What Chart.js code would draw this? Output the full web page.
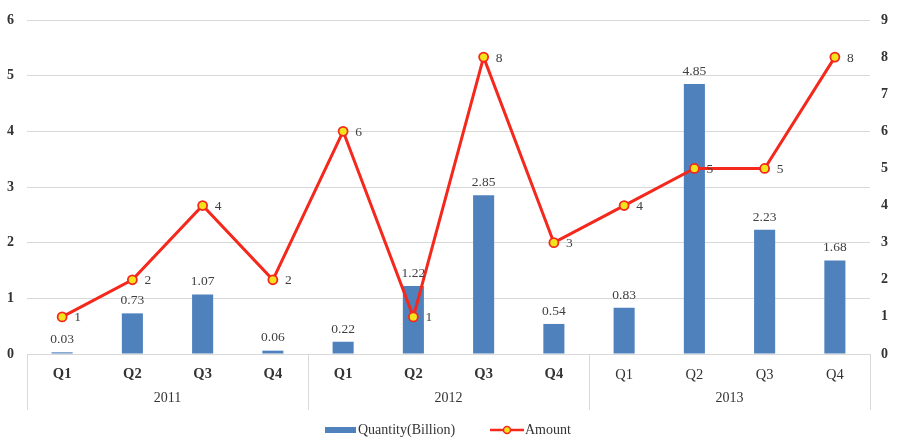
<!DOCTYPE html>
<html><head><meta charset="utf-8">
<script src="https://cdn.jsdelivr.net/npm/chart.js@4/dist/chart.umd.min.js"></script>
<style>html,body{margin:0;padding:0;background:#fff}#wrap{width:898px;height:440px}</style>
</head><body><div id="wrap"><canvas id="c" width="898" height="440"></canvas></div>
<script>
const quarters = ['Q1','Q2','Q3','Q4','Q1','Q2','Q3','Q4','Q1','Q2','Q3','Q4'];
const years = ['2011','2012','2013'];
const quantity = [0.03,0.73,1.07,0.06,0.22,1.22,2.85,0.54,0.83,4.85,2.23,1.68];
const amount = [1,2,4,2,6,1,8,3,4,5,5,8];
const leftTicks = [0,1,2,3,4,5,6];
const rightTicks = [0,1,2,3,4,5,6,7,8,9];

const FONT = '"Liberation Serif", "Times New Roman", serif';
const BLUE = '#4f81bd', RED = '#f4281c', YEL = '#f2e41c';

const extras = {
  id: 'extras',
  afterDatasetsDraw(chart) {
    const ctx = chart.ctx;
    ctx.save();
    ctx.font = '13.5px ' + FONT;
    ctx.fillStyle = '#404040';
    ctx.textAlign = 'center';
    ctx.textBaseline = 'bottom';
    const bm = chart.getDatasetMeta(0);
    bm.data.forEach((b, i) => {
      ctx.fillText(quantity[i].toFixed(2), b.x, b.y - 6);
    });
    ctx.textAlign = 'left';
    ctx.textBaseline = 'middle';
    const lm = chart.getDatasetMeta(1);
    lm.data.forEach((p, i) => {
      ctx.fillText(String(amount[i]), p.x + 12, p.y + 1);
    });
    ctx.restore();
  },
  afterDraw(chart) {
    const ctx = chart.ctx;
    const x = chart.scales.x;
    const ca = chart.chartArea;
    const step = x.getPixelForValue(1) - x.getPixelForValue(0);
    ctx.save();
    ctx.strokeStyle = '#d9d9d9';
    ctx.lineWidth = 1;
    for (let g = 0; g <= years.length; g++) {
      const idx = g * 4;
      const px = Math.round(x.getPixelForValue(0) - step / 2 + idx * step) + 0.5;
      ctx.beginPath();
      ctx.moveTo(px, ca.bottom);
      ctx.lineTo(px, ca.bottom + 56);
      ctx.stroke();
    }
    ctx.font = '14px ' + FONT;
    ctx.fillStyle = '#333333';
    ctx.textAlign = 'center';
    ctx.textBaseline = 'middle';
    years.forEach((yv, g) => {
      const cx = (x.getPixelForValue(g * 4 + 1) + x.getPixelForValue(g * 4 + 2)) / 2;
      ctx.fillText(yv, cx, ca.bottom + 44);
    });
    const ly = 430;
    ctx.fillStyle = BLUE;
    ctx.fillRect(325, ly - 3, 31, 6);
    ctx.fillStyle = '#333333';
    ctx.textAlign = 'left';
    ctx.fillText('Quantity(Billion)', 358, ly);
    ctx.strokeStyle = RED;
    ctx.lineWidth = 2.5;
    ctx.beginPath(); ctx.moveTo(490, ly); ctx.lineTo(524, ly); ctx.stroke();
    ctx.beginPath(); ctx.arc(507, ly, 3.5, 0, Math.PI * 2);
    ctx.fillStyle = YEL; ctx.fill(); ctx.lineWidth = 1.5; ctx.stroke();
    ctx.fillStyle = '#333333';
    ctx.fillText('Amount', 525, ly);
    ctx.restore();
  }
};

new Chart(document.getElementById('c'), {
  data: {
    labels: quarters,
    datasets: [
      { type: 'bar', label: 'Quantity(Billion)', data: quantity, yAxisID: 'y',
        backgroundColor: BLUE, barPercentage: 0.6, categoryPercentage: 0.5, order: 2 },
      { type: 'line', label: 'Amount', data: amount, yAxisID: 'y2',
        borderColor: RED, borderWidth: 3, pointRadius: 4.5, pointBorderWidth: 1.8,
        pointBackgroundColor: YEL, pointBorderColor: RED, tension: 0, order: 1 }
    ]
  },
  options: {
    responsive: false, animation: false,
    layout: { padding: { top: 19, bottom: 30, left: 0, right: 0 } },
    plugins: { legend: { display: false }, tooltip: { enabled: false } },
    scales: {
      x: {
        grid: { display: false, drawTicks: false },
        border: { display: false },
        ticks: {
          font: (c) => ({ family: FONT, size: 14.5, weight: c.index < 8 ? 'bold' : 'normal' }),
          color: '#333333', padding: 12, maxRotation: 0
        },
        afterFit(s) { s.height = 56; }
      },
      y: {
        position: 'left', min: 0, max: 6,
        afterBuildTicks(s) { s.ticks = leftTicks.map(v => ({ value: v })); },
        grid: { color: '#d9d9d9', drawTicks: false },
        border: { display: false },
        ticks: { font: { family: FONT, size: 14, weight: 'bold', lineHeight: 1 }, color: '#333333', padding: 13 },
        afterFit(s) { s.width = 27; }
      },
      y2: {
        position: 'right', min: 0, max: 9,
        afterBuildTicks(s) { s.ticks = rightTicks.map(v => ({ value: v })); },
        grid: { display: false, drawTicks: false },
        border: { display: false },
        ticks: { font: { family: FONT, size: 14, weight: 'bold', lineHeight: 1 }, color: '#333333', padding: 11 },
        afterFit(s) { s.width = 28; }
      }
    }
  },
  plugins: [extras]
});
</script></body></html>
